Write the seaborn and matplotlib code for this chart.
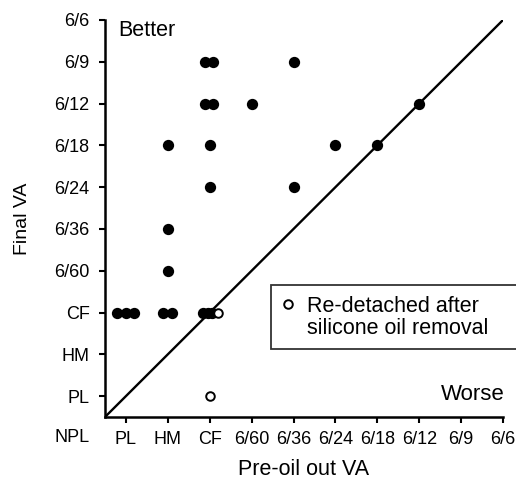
import matplotlib
matplotlib.use("Agg")
import matplotlib.pyplot as plt
from matplotlib.legend_handler import HandlerPathCollection
import seaborn as sns
import pandas as pd

# DATA - visual acuity scale (index 0 = NPL ... 10 = 6/6)
va_labels = ["NPL", "PL", "HM", "CF", "6/60", "6/36", "6/24", "6/18", "6/12", "6/9", "6/6"]

# filled dots: eyes that stayed attached (small offsets = side-by-side dots in the original)
pre_oil = [2.88, 3.07, 5,
           2.88, 3.07, 4, 8,
           2, 3, 6, 7,
           3, 5,
           2,
           2,
           0.78, 1.0, 1.19, 1.88, 2.1, 2.83, 2.95, 3.05]
final_va = [9, 9, 9,
            8, 8, 8, 8,
            7, 7, 7, 7,
            6, 6,
            5,
            4,
            3, 3, 3, 3, 3, 3, 3, 3]

# open circles: re-detached after silicone oil removal
pre_oil_redet = [3.2, 3.0]
final_va_redet = [3, 1]

if __name__ == "__main__":
    df = pd.DataFrame({"pre": pre_oil, "final": final_va})
    df_re = pd.DataFrame({"pre": pre_oil_redet, "final": final_va_redet})

    sns.set_theme(style="ticks")
    plt.rcParams["font.family"] = ["Liberation Sans", "DejaVu Sans"]
    plt.rcParams.update({"text.color": "black", "axes.labelcolor": "black",
                         "xtick.color": "black", "ytick.color": "black"})

    fig = plt.figure(figsize=(5.16, 4.79), dpi=100)
    ax = fig.add_axes([105 / 516, 62 / 479, 398 / 516, 397 / 479])

    # identity line: no change in acuity
    ax.axline((1, 1), (10, 10), color="black", lw=1.7, zorder=1)

    sns.scatterplot(data=df, x="pre", y="final", ax=ax, color="black", s=66,
                    edgecolor="black", linewidth=0, zorder=3)
    sns.scatterplot(data=df_re, x="pre", y="final", ax=ax, s=38, facecolor="white",
                    edgecolor="black", linewidth=1.4, zorder=4)
    open_pts = ax.collections[-1]

    ax.set_xlim(0.5, 10)
    ax.set_ylim(0.5, 10)
    ticks = list(range(1, 11))
    ax.set_xticks(ticks, va_labels[1:])
    ax.set_yticks(ticks, va_labels[1:])
    ax.tick_params(axis="both", length=4, width=1.5, labelsize=13)
    ax.tick_params(axis="y", pad=7)
    ax.tick_params(axis="x", pad=6)
    sns.despine(ax=ax)
    for s in ("left", "bottom"):
        ax.spines[s].set_linewidth(1.8)
        ax.spines[s].set_color("black")

    # shared NPL label at the corner
    ax.annotate("NPL", xy=(0.5, 0), xycoords="data", xytext=(-11, 0),
                textcoords="offset points", ha="right", va="center",
                fontsize=13, annotation_clip=False)

    ax.set_xlabel("Pre-oil out VA", fontsize=15.5, labelpad=8)
    ax.set_ylabel("Final VA", fontsize=14, labelpad=17)

    ax.text(0.81, 9.76, "Better", fontsize=15.5, ha="left", va="center")
    ax.text(10.05, 1.05, "Worse", fontsize=16, ha="right", va="center")

    leg = ax.legend([open_pts], ["Re-detached after\nsilicone oil removal"],
                    handler_map={open_pts: HandlerPathCollection(yoffsets=[1.4])},
                    loc="upper left", bbox_to_anchor=(271 / 516, 1 - 285 / 479, 0.5, 0),
                    bbox_transform=fig.transFigure, mode="expand",
                    fontsize=15.5, frameon=True, fancybox=False, borderpad=0.5,
                    handlelength=0.6, handletextpad=0.55, borderaxespad=0)
    leg.get_frame().set_edgecolor("black")
    leg.get_frame().set_linewidth(1.3)
    for t in leg.get_texts():
        t.set_linespacing(1.05)

    plt.savefig("out.png", dpi=100)
